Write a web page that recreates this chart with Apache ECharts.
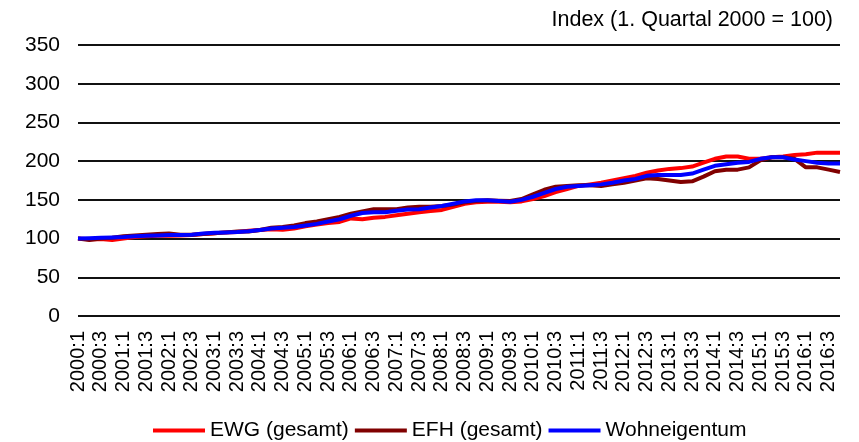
<!DOCTYPE html>
<html>
<head>
<meta charset="utf-8">
<script src="https://cdn.jsdelivr.net/npm/echarts@6/dist/echarts.min.js"></script>
<style>
  html, body { margin: 0; padding: 0; background: #fff; }
</style>
</head>
<body>
<div id="main" style="width: 859px;height:442px;"></div>
<script type="text/javascript">
    // Quartale 2000:1 bis 2016:4
    var quartale = [];
    for (var y = 2000; y <= 2016; y++) {
        for (var q = 1; q <= 4; q++) {
            quartale.push(y + ':' + q);
        }
    }

    var ewg = [100, 99, 99.5, 98, 100, 102, 103, 103.5, 103.5, 104, 104.5, 106, 107, 108, 108.5, 110,
        111, 112, 111.5, 113, 116, 118, 120, 121.5, 126, 125, 127, 128, 130, 132, 134, 135.5,
        137, 141, 145, 147, 147.5, 147.5, 147, 148, 151, 155, 160, 164, 168, 170, 172, 175,
        178, 181, 185, 188, 190, 191, 193, 198, 203, 206, 206, 203, 203, 205, 206, 208,
        209, 211, 211, 211];

    var efh = [100, 98, 100, 101, 103, 104, 105, 106, 106.5, 105, 105, 106, 107, 108, 109, 109,
        111, 114, 115, 117, 120, 122, 125, 128, 132, 135, 138, 138, 138, 140, 141, 141,
        142, 144, 147, 148.5, 149.5, 149, 148.5, 151, 157, 163, 167, 168, 169, 169, 168, 170,
        172, 175, 178, 177, 175, 173, 174, 180, 187, 189, 189, 192, 201, 205, 205, 203,
        192, 192, 189, 186];

    var wohneigentum = [100, 100.5, 101, 101.5, 102, 103, 103.5, 104, 104.5, 104.5, 105, 106.5, 107.5, 108, 108.5, 109.5,
        111, 113, 114, 115, 117, 119, 122, 125, 129.5, 133, 134, 134, 136, 137.5, 138, 140,
        142, 145, 148, 149.5, 149.5, 148.5, 147.5, 150, 154, 159, 164, 167, 168, 169, 170, 172,
        175, 177, 181, 182, 182, 182, 184, 189, 194, 196, 198, 199, 203, 205, 205, 202,
        200, 198, 197, 197];

    var schrift = 'Liberation Sans, Arial, sans-serif';

    var myChart = echarts.init(document.getElementById('main'));

    var option = {
        animation: false,
        backgroundColor: '#fff',
        title: {
            text: 'Index (1. Quartal 2000 = 100)',
            right: 21,
            top: 4,
            textStyle: { fontFamily: schrift, fontSize: 21.5, fontWeight: 'normal', color: '#000' }
        },
        legend: {
            left: 153,
            top: 420,
            padding: 0,
            itemWidth: 52,
            itemHeight: 4,
            itemGap: 6,
            icon: 'rect',
            textStyle: { fontFamily: schrift, fontSize: 21, color: '#000' },
            data: ['EWG (gesamt)', 'EFH (gesamt)', 'Wohneigentum']
        },
        grid: {
            left: 78,
            right: 19,
            top: 45,
            bottom: 126,
            containLabel: false
        },
        xAxis: {
            type: 'category',
            data: quartale,
            boundaryGap: false,
            axisLine: { show: false },
            axisTick: { show: false },
            axisLabel: {
                interval: 1,
                rotate: 90,
                margin: 15,
                fontFamily: schrift,
                fontSize: 20,
                color: '#000'
            },
            splitLine: { show: false }
        },
        yAxis: {
            type: 'value',
            min: 0,
            max: 350,
            interval: 50,
            axisLine: { show: false },
            axisTick: { show: false },
            axisLabel: {
                margin: 18,
                fontFamily: schrift,
                fontSize: 21,
                color: '#000'
            },
            splitLine: { lineStyle: { color: '#111', width: 2 } }
        },
        series: [
            {
                name: 'EWG (gesamt)',
                type: 'line',
                data: ewg,
                symbol: 'none',
                color: '#ff0000',
                lineStyle: { width: 4, color: '#ff0000' }
            },
            {
                name: 'EFH (gesamt)',
                type: 'line',
                data: efh,
                symbol: 'none',
                color: '#800000',
                lineStyle: { width: 4, color: '#800000' }
            },
            {
                name: 'Wohneigentum',
                type: 'line',
                data: wohneigentum,
                symbol: 'none',
                color: '#0000ff',
                lineStyle: { width: 4, color: '#0000ff' }
            }
        ]
    };

    myChart.setOption(option);
</script>
</body>
</html>
